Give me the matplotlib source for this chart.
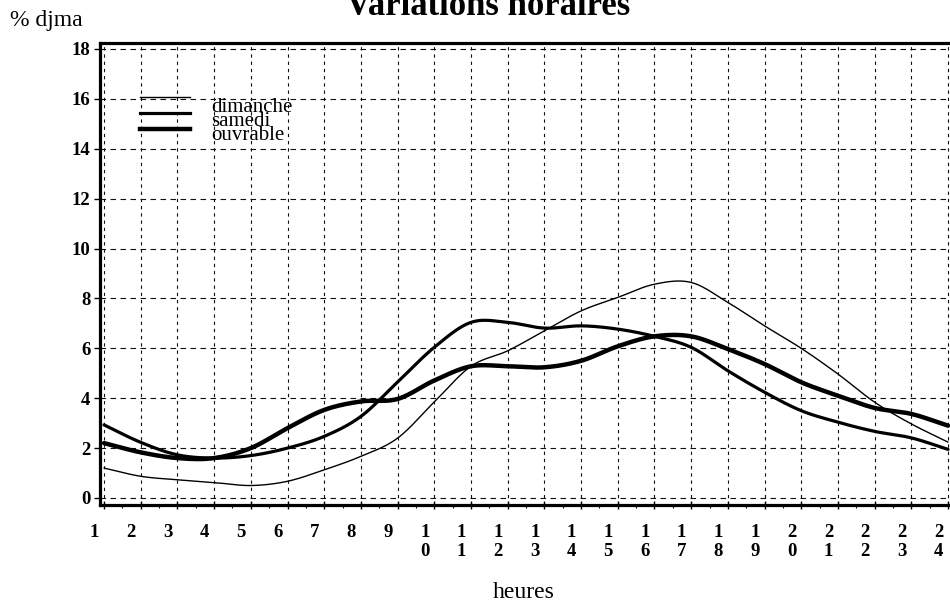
import matplotlib
matplotlib.use('Agg')

import matplotlib.pyplot as plt
import matplotlib.transforms as mtransforms
import numpy as np

plt.rcParams['font.family'] = ['Liberation Serif', 'DejaVu Serif']

# data (% of djma per hour)
hours = list(range(1, 25))
dimanche = [1.2, 0.87, 0.73, 0.62, 0.5, 0.67, 1.13, 1.67, 2.4, 3.85, 5.28, 5.9,
            6.7, 7.5, 8.04, 8.57, 8.64, 7.84, 6.9, 6.0, 4.97, 3.84, 2.97, 2.24]
samedi = [2.93, 2.23, 1.73, 1.6, 1.7, 2.0, 2.47, 3.27, 4.65, 6.04, 7.04, 7.04,
          6.81, 6.9, 6.77, 6.48, 6.04, 5.1, 4.24, 3.5, 3.04, 2.67, 2.41, 1.95]
ouvrable = [2.2, 1.83, 1.6, 1.6, 2.0, 2.8, 3.53, 3.87, 3.97, 4.71, 5.28, 5.28,
            5.24, 5.5, 6.08, 6.48, 6.48, 5.97, 5.37, 4.64, 4.1, 3.61, 3.37, 2.9]
series_names = ['dimanche', 'samedi', 'ouvrable']
y_ticks = list(range(0, 19, 2))
hour_labels = ['\n'.join(str(h)) for h in hours]


def smooth(x, y, n=24):
    # cubic hermite through the points, like the original's smoothed curves
    x = np.asarray(x, float)
    y = np.asarray(y, float)
    m = np.gradient(y, x)
    t = np.linspace(0, 1, n, endpoint=False)
    h00 = 2 * t**3 - 3 * t**2 + 1
    h10 = t**3 - 2 * t**2 + t
    h01 = -2 * t**3 + 3 * t**2
    h11 = t**3 - t**2
    xs, ys = [], []
    for i in range(len(x) - 1):
        d = x[i + 1] - x[i]
        xs.append(x[i] + t * d)
        ys.append(h00 * y[i] + h10 * d * m[i] + h01 * y[i + 1] + h11 * d * m[i + 1])
    xs.append([x[-1]])
    ys.append([y[-1]])
    return np.concatenate(xs), np.concatenate(ys)


fig = plt.figure(figsize=(9.5, 6.06), dpi=100)
ax = fig.add_axes([0.1053, 0.1667, 0.8947, 0.7624])

widths = [1.0, 2.3, 3.2]
for vals, lw in zip([dimanche, samedi, ouvrable], widths):
    xs, ys = smooth(hours, vals)
    ax.plot(xs, ys, color='black', lw=lw, solid_capstyle='round', zorder=3)

ax.set_xlim(0.891, 24.054)
ax.set_ylim(-0.28, 18.24)

# grid: long dashes horizontally, short ones vertically
for v in y_ticks:
    ax.axhline(v, color='#111111', lw=0.8, ls=(0, (5, 4)), zorder=1)
for h in hours:
    ax.axvline(h, color='#111111', lw=0.8, ls=(0, (3, 3.5)), zorder=1)

for side in ['left', 'bottom', 'top']:
    ax.spines[side].set_linewidth(2.3)
ax.spines['right'].set_visible(False)

ax.set_xticks(hours)
ax.set_xticklabels(hour_labels)
ax.set_xticks(np.array(hours[:-1]) + 0.5, minor=True)
ax.set_yticks(y_ticks)
ax.set_yticklabels([str(v) for v in y_ticks])
ax.tick_params(axis='x', which='major', direction='inout', length=6, width=1,
               pad=11, labelsize=13.5)
ax.tick_params(axis='x', which='minor', direction='out', length=2.5, width=0.8)
ax.tick_params(axis='y', which='major', direction='out', length=4, width=1,
               pad=3, labelsize=13.5)

offset = mtransforms.ScaledTranslation(-9.5 / 100, 0, fig.dpi_scale_trans)
for lbl in ax.get_xticklabels():
    lbl.set_fontweight('bold')
    lbl.set_linespacing(1.1)
    lbl.set_transform(lbl.get_transform() + offset)
for lbl in ax.get_yticklabels():
    lbl.set_fontweight('bold')

# legend drawn by hand, in axes fraction
leg_y_line = [0.884, 0.849, 0.814]
leg_y_text = [0.851, 0.820, 0.789]
for name, lw, yl, yt in zip(series_names, widths, leg_y_line, leg_y_text):
    ax.plot([0.047, 0.106], [yl, yl], color='black', lw=lw,
            transform=ax.transAxes, zorder=4)
    ax.text(0.131, yt, name, transform=ax.transAxes, fontsize=15,
            ha='left', va='baseline', zorder=4)

fig.text(488 / 950, 1 - 15 / 606, 'Variations horaires', ha='center',
         va='baseline', fontsize=25, fontweight='bold')
fig.text(10 / 950, 1 - 26 / 606, '% djma', ha='left', va='baseline', fontsize=17)
fig.text(524 / 950, 1 - 593 / 606, 'heures', ha='center', va='center', fontsize=17)

fig.savefig('out.png', dpi=100)
